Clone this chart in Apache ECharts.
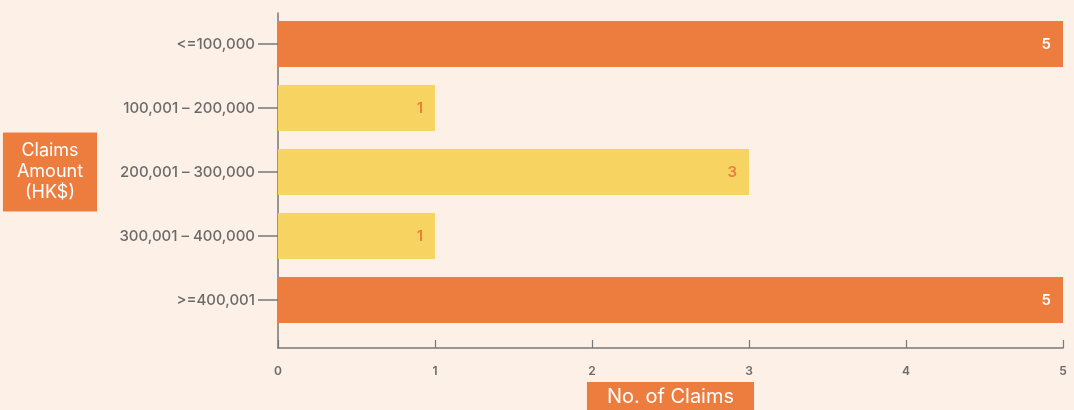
<!DOCTYPE html>
<html>
<head>
<meta charset="utf-8">
<script src="https://cdn.jsdelivr.net/npm/echarts@6/dist/echarts.min.js"></script>
<style>
html,body{margin:0;padding:0;background:#FDF0E7;}
#chart{width:1074px;height:410px;}
</style>
</head>
<body>
<div id="chart"></div>
<script>
const categories = ['<=100,000', '100,001 – 200,000', '200,001 – 300,000', '300,001 – 400,000', '>=400,001'];
const claims = [5, 1, 3, 1, 5];
const xTicks = [0, 1, 2, 3, 4, 5];

const ORANGE = '#ED7C3F';
const YELLOW = '#F7D362';
const barStyle = ['o', 'y', 'y', 'y', 'o'];
const AXIS = '#777777';
const FONT = 'Inter, "Noto Sans", sans-serif';

const chart = echarts.init(document.getElementById('chart'));
chart.setOption({
  backgroundColor: '#FDF0E7',
  animation: false,
  grid: [
    {left: 278, right: 11, top: 12, bottom: 78, containLabel: false, outerBoundsMode: 'none'},
    {left: 278, right: 11, top: 13, bottom: 62, containLabel: false, outerBoundsMode: 'none'}
  ],
  xAxis: [
    {gridIndex: 0, type: 'value', min: 0, max: 5, show: false},
    {gridIndex: 1, type: 'value', min: xTicks[0], max: xTicks[xTicks.length - 1], interval: 1,
     axisLine: {show: true, lineStyle: {color: AXIS, width: 1.5}},
     axisTick: {show: true, inside: true, length: 8, lineStyle: {color: AXIS, width: 1.2}},
     splitLine: {show: false},
     axisLabel: {color: '#6a6a6a', fontSize: 12, fontWeight: 600, fontFamily: FONT, margin: 17},
     name: 'No. of Claims', nameLocation: 'middle', nameGap: 34,
     nameTextStyle: {color: '#ffffff', fontSize: 20, fontFamily: FONT, backgroundColor: ORANGE,
       padding: [5, 20, 8, 20], align: 'center', verticalAlign: 'top'}
    }
  ],
  yAxis: [
    {gridIndex: 0, type: 'category', data: categories, inverse: true,
     axisLine: {show: false},
     axisTick: {show: true, alignWithLabel: true, length: 20, lineStyle: {color: AXIS, width: 1.5}},
     axisLabel: {color: '#6a6a6a', fontSize: 15, fontWeight: 500, fontFamily: FONT, margin: 23},
     name: 'Claims\nAmount\n(HK$)', nameLocation: 'middle', nameRotate: 0, nameGap: 228,
     nameTextStyle: {color: '#ffffff', fontSize: 18, lineHeight: 21, fontFamily: FONT, backgroundColor: ORANGE,
       padding: [8, 14, 8, 14], align: 'center'}
    },
    {gridIndex: 1, type: 'value', min: 0, max: 1,
     axisLine: {show: true, lineStyle: {color: AXIS, width: 1.5}},
     axisTick: {show: false}, axisLabel: {show: false}, splitLine: {show: false}}
  ],
  series: [{
    type: 'bar', xAxisIndex: 0, yAxisIndex: 0, barWidth: 46,
    data: claims.map((v, i) => ({
      value: v,
      itemStyle: {color: barStyle[i] === 'o' ? ORANGE : YELLOW},
      label: {color: barStyle[i] === 'o' ? '#ffffff' : ORANGE}
    })),
    label: {show: true, position: 'insideRight', distance: 12, fontSize: 15, fontWeight: 600, fontFamily: FONT}
  }]
});
</script>
</body>
</html>
